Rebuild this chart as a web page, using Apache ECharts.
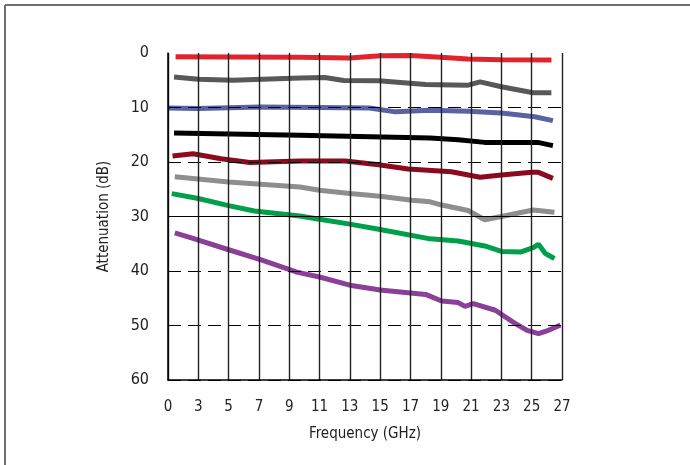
<!DOCTYPE html>
<html><head><meta charset="utf-8">
<script src="https://cdn.jsdelivr.net/npm/echarts@6/dist/echarts.min.js"></script>
<style>html,body{margin:0;padding:0;background:#fff}#c{width:690px;height:465px}</style>
</head><body><div id="c"></div>
<script>
// Frequency tick labels as printed on the chart (first tick printed as "0")
const xTickLabels = ['0','3','5','7','9','11','13','15','17','19','21','23','25','27'];

// Series: [frequency GHz, attenuation dB]
const redData = [[1.5,0.7],[9.7,0.8],[13,0.9],[15,0.5],[17,0.45],[19,0.8],[20.8,1.1],[23,1.25],[26.3,1.3]];
const darkGreyData = [[1.4,4.4],[3,4.8],[5.3,5.0],[9.7,4.6],[11.35,4.5],[12.6,5.05],[14.9,5.1],[18,5.8],[20.8,5.9],[21.6,5.3],[23,6.2],[25.1,7.3],[26.3,7.3]];
const blueData = [[1.0,10.1],[3,10.2],[7.1,9.9],[12.7,10.05],[14.3,10.1],[16,10.8],[18.3,10.5],[20.8,10.7],[23,11.0],[25.2,11.7],[26.4,12.4]];
const blackData = [[1.4,14.7],[9.7,15.1],[18.3,15.6],[20.15,15.9],[21.9,16.4],[25.4,16.4],[26.4,17.0]];
const darkRedData = [[1.3,18.9],[2.65,18.5],[4.5,19.4],[6.4,20.1],[9.7,19.8],[12.7,19.8],[14.9,20.5],[16.85,21.3],[19.7,21.8],[21.6,22.8],[23,22.4],[25,21.9],[25.45,21.9],[26.4,23.0]];
const lightGreyData = [[1.45,22.7],[5,23.65],[9.7,24.6],[11,25.2],[13,25.8],[15,26.3],[17.1,27.0],[18.3,27.3],[19.06,27.9],[20.8,28.9],[21.9,30.6],[23,30.0],[25.1,28.8],[26.5,29.2]];
const greenData = [[1.25,25.8],[3,26.7],[5,28.0],[6.7,29.0],[9.7,29.9],[11,30.5],[13,31.4],[15,32.4],[18.3,34.1],[20.15,34.5],[21.9,35.4],[23,36.4],[24.3,36.5],[25.1,35.7],[25.45,35.1],[25.9,36.8],[26.5,37.7]];
const purpleData = [[1.45,33.0],[2.65,34.0],[5,36.1],[7.2,38.0],[9.5,40.2],[11,41.1],[13,42.6],[15,43.5],[18,44.3],[19.06,45.5],[20.15,45.8],[20.6,46.5],[21.15,46.0],[22.6,47.2],[23.9,49.6],[24.7,50.9],[25.45,51.5],[26,51.0],[26.9,49.9]];

const seriesList = [
  {name:'A', data: redData, color:'#e3232c'},
  {name:'B', data: darkGreyData, color:'#585858'},
  {name:'C', data: blueData, color:'#5a62a3'},
  {name:'D', data: blackData, color:'#000000'},
  {name:'E', data: darkRedData, color:'#8c0a1e'},
  {name:'F', data: lightGreyData, color:'#8e8e8e'},
  {name:'G', data: greenData, color:'#00a04b'},
  {name:'H', data: purpleData, color:'#8a3f99'}
];

const FONT = "'Liberation Sans Narrow','DejaVu Sans Condensed','Liberation Sans',sans-serif";
const chart = echarts.init(document.getElementById('c'), null, {renderer:'canvas'});

const series = seriesList.map(s => ({
  name: s.name, type:'line', data: s.data, showSymbol:false, smooth:false,
  lineStyle:{color:s.color, width:5}, itemStyle:{color:s.color}, z:2, silent:true
}));
series.push({
  type:'line', data:[], silent:true, z:1,
  markLine:{symbol:'none', silent:true, label:{show:false},
    lineStyle:{color:'#000', type:'solid', width:1.2},
    data:[{yAxis:30}]}
});

chart.setOption({
  animation:false,
  backgroundColor:'#fff',
  grid:{left:168, top:53, right:128, bottom:85, containLabel:false},
  xAxis:{
    type:'value', min:1, max:27, interval:2, z:5,
    name:'Frequency (GHz)', nameLocation:'middle', nameGap:47,
    nameTextStyle:{fontFamily:FONT, fontSize:15, color:'#222'},
    axisLine:{show:true, onZero:false, lineStyle:{color:'#000', width:1.5}},
    axisTick:{show:false},
    axisLabel:{fontFamily:FONT, fontSize:15, color:'#222', margin:20,
      formatter: v => xTickLabels[Math.round((v-1)/2)]},
    splitLine:{show:true, lineStyle:{color:'#222', width:1.4}}
  },
  yAxis:{
    type:'value', inverse:true, min:0, max:60, interval:10, z:5,
    name:'Attenuation (dB)', nameLocation:'middle', nameGap:56, nameRotate:90,
    nameTextStyle:{fontFamily:FONT, fontSize:15, color:'#222'},
    axisLine:{show:true, lineStyle:{color:'#000', width:1.5}},
    axisTick:{show:false},
    axisLabel:{fontFamily:FONT, fontSize:16, color:'#222', margin:19, padding:[4,0,0,0]},
    splitLine:{show:true, showMinLine:false, lineStyle:{color:'#000', width:1.2, type:[13,7]}}
  },
  graphic:[
    {type:'line', shape:{x1:5, y1:5, x2:690, y2:5}, style:{stroke:'#6e6e6e', lineWidth:2}, silent:true},
    {type:'line', shape:{x1:5, y1:5, x2:5, y2:465}, style:{stroke:'#6e6e6e', lineWidth:2}, silent:true}
  ],
  series: series
});
</script></body></html>
